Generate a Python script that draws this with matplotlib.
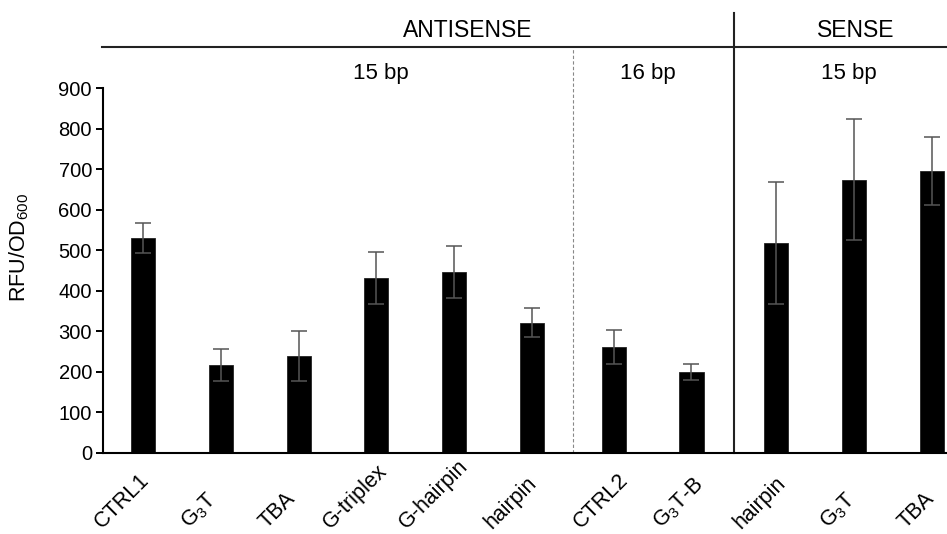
import numpy as np
import matplotlib.pyplot as plt
from matplotlib.transforms import ScaledTranslation

plt.rcParams['font.family'] = ['Liberation Sans', 'DejaVu Sans']
plt.rcParams['mathtext.default'] = 'regular'

# data
labels = ['CTRL1', 'G$_3$T', 'TBA', 'G-triplex', 'G-hairpin', 'hairpin',
          'CTRL2', 'G$_3$T-B', 'hairpin', 'G$_3$T', 'TBA']
values = [531, 217, 239, 432, 446, 321, 261, 200, 518, 674, 695]
errors = [37, 40, 62, 64, 65, 36, 41, 20, 151, 149, 83]
group = [0, 0, 0, 0, 0, 0, 1, 1, 2, 2, 2]   # antisense 15bp / antisense 16bp / sense 15bp

# small extra gaps between the groups
gap = np.array([0.0, 0.05, 0.14])
x = np.arange(len(values)) + gap[group]
# label shift (pixels) per group, the labels don't follow the gaps
lab_shift = [-21, -12.5, -16]

fig = plt.figure(figsize=(9.47, 5.34), dpi=100)
ax = fig.add_axes([103/947, 1 - 452.7/534, 1 - 103/947, (452.7 - 88)/534])

ax.bar(x, values, width=0.31, color='black', edgecolor='#222222', linewidth=0.6, zorder=2)
ax.errorbar(x, values, yerr=errors, fmt='none', ecolor='#555555', elinewidth=1.1,
            capsize=5.5, capthick=1.1, zorder=3)

ax.set_xlim(-0.514, 10.334)
ax.set_ylim(0, 900)
ax.set_yticks(np.arange(0, 901, 100))
ax.tick_params(axis='y', direction='out', length=5, width=1.4, labelsize=14.5, pad=3)
# labels sit on a common bottom line, centred a bit left of each bar (like Excel does it)
ax.tick_params(axis='x', length=0, labelsize=15.5, pad=57.6)
ax.set_xticks(x)
ax.set_xticklabels(labels, rotation=45, ha='center', va='bottom', rotation_mode='default')
for lab, g in zip(ax.get_xticklabels(), group):
    lab.set_transform(lab.get_transform() + ScaledTranslation(lab_shift[g]/100, 0, fig.dpi_scale_trans))

for s in ['top', 'right']:
    ax.spines[s].set_visible(False)
ax.spines['left'].set_linewidth(1.5)
ax.spines['bottom'].set_linewidth(1.5)

ax.set_ylabel('RFU/OD$_{600}$', fontsize=15.5, va='center')
ax.yaxis.set_label_coords((19 - 103)/844, (452.7 - 247.5)/364.7)

# group dividers and headers
div_dash = (x[5] + x[6]) / 2
div_solid = (x[7] + x[8]) / 2
ax.plot([div_dash, div_dash], [0, 1000], color='#888888', lw=0.8, ls=(0, (3, 2)), clip_on=False, zorder=1)
ax.plot([div_solid, div_solid], [0, 1085], color='#222222', lw=1.5, clip_on=False, zorder=1)
ax.plot([-0.53, 10.4], [1000, 1000], color='#222222', lw=1.5, clip_on=False)

ax.text(4.17, 1025, 'ANTISENSE', fontsize=16.5, ha='center', va='baseline')
ax.text(9.16, 1025, 'SENSE', fontsize=16.5, ha='center', va='baseline')
ax.text(3.06, 923, '15 bp', fontsize=16, ha='center', va='baseline')
ax.text(6.49, 923, '16 bp', fontsize=16, ha='center', va='baseline')
ax.text(9.07, 923, '15 bp', fontsize=16, ha='center', va='baseline')

fig.savefig('out.png', dpi=100)
